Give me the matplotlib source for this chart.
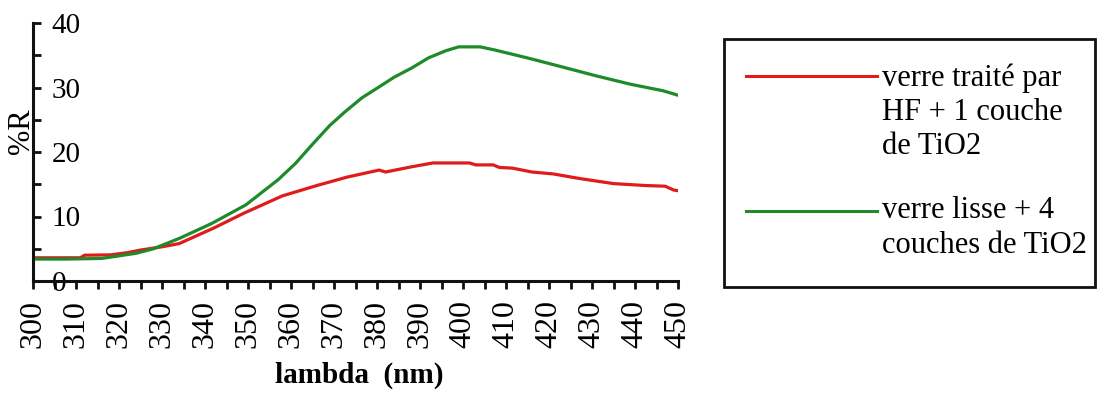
import numpy as np
import matplotlib.pyplot as plt
from matplotlib.lines import Line2D
from matplotlib.patches import Rectangle

plt.rcParams['font.family'] = ['Liberation Serif', 'DejaVu Serif']

# donnees
wl_red = [300, 305, 311, 312, 318, 322, 325, 330, 334, 342, 349, 354, 358, 362, 366, 373, 380.5,
          382, 388, 393, 401.5, 403, 407, 408.5, 411.5, 416, 421, 427, 435, 442.5, 447, 449, 450]
r_red = [3.6, 3.6, 3.6, 4.0, 4.05, 4.4, 4.8, 5.3, 5.8, 8.2, 10.5, 12.0, 13.2, 14.0, 14.8, 16.1, 17.2,
         16.9, 17.7, 18.3, 18.3, 18.0, 18.0, 17.6, 17.5, 16.9, 16.6, 15.9, 15.1, 14.8, 14.7, 14.1, 14.0]

wl_green = [300, 308, 316, 320, 324, 328, 334, 341.5, 349.5, 357, 361, 365, 369, 372.5,
            376.5, 380.5, 384, 388, 392, 396, 399, 404, 407.5, 415.5, 423, 431, 439, 446.5, 450]
r_green = [3.4, 3.4, 3.5, 3.9, 4.3, 5.0, 6.6, 8.9, 11.8, 15.7, 18.2, 21.2, 24.1, 26.2,
           28.4, 30.1, 31.6, 33.0, 34.6, 35.7, 36.3, 36.3, 35.8, 34.5, 33.2, 31.8, 30.5, 29.5, 28.8]

label_red = ['verre traité par', 'HF + 1 couche', 'de TiO2']
label_green = ['verre lisse + 4', 'couches de TiO2']

c_red = '#e01b1b'
c_green = '#1f8a2a'

W, H = 1105, 394
fig = plt.figure(figsize=(W / 100, H / 100), dpi=100)
ax = fig.add_axes([33 / W, 1 - 281 / H, 645 / W, 258 / H])

ax.plot(wl_red, r_red, color=c_red, linewidth=2.3)
ax.plot(wl_green, r_green, color=c_green, linewidth=2.3)

ax.set_xlim(300, 450)
ax.set_ylim(0, 40)
for s in ['top', 'right']:
    ax.spines[s].set_visible(False)
for s in ['left', 'bottom']:
    ax.spines[s].set_linewidth(2.2)
    ax.spines[s].set_color('#111111')

ax.set_xticks(np.arange(300, 451, 10))
ax.set_xticks(np.arange(305, 450, 10), minor=True)
ax.set_yticks(np.arange(0, 41, 10))
ax.set_yticks(np.arange(5, 40, 10), minor=True)

ax.tick_params(axis='x', which='both', direction='out', length=5.5, width=2, color='#111111')
ax.tick_params(axis='x', which='major', labelsize=23, pad=8, labelrotation=90)
ax.tick_params(axis='y', which='both', direction='in', length=6, width=2, color='#111111')
ax.tick_params(axis='y', which='major', labelsize=21, pad=-13.5)
for t in ax.get_yticklabels():
    t.set_horizontalalignment('left')

fig.text(21 / W, 1 - 131 / H, '%R', rotation=90, fontsize=22, ha='center', va='center')
fig.text(359 / W, 1 - 383 / H, 'lambda  (nm)', fontsize=21, fontweight='bold',
         ha='center', va='baseline')

# legende
fig.patches.append(Rectangle((724 / W, 1 - 287 / H), (1095 - 724) / W, (287 - 39) / H,
                             transform=fig.transFigure, fill=False, edgecolor='#111111',
                             linewidth=2))
fig.lines.append(Line2D([746 / W, 877 / W], [1 - 76 / H] * 2, transform=fig.transFigure,
                        color=c_red, linewidth=2.2))
fig.lines.append(Line2D([746 / W, 877 / W], [1 - 211 / H] * 2, transform=fig.transFigure,
                        color=c_green, linewidth=2.2))
for i, txt in enumerate(label_red):
    fig.text(882 / W, 1 - (86 + 34 * i) / H, txt, fontsize=22, va='baseline')
for i, txt in enumerate(label_green):
    fig.text(882 / W, 1 - (218 + 35 * i) / H, txt, fontsize=22, va='baseline')

fig.savefig('out.png', dpi=100)
